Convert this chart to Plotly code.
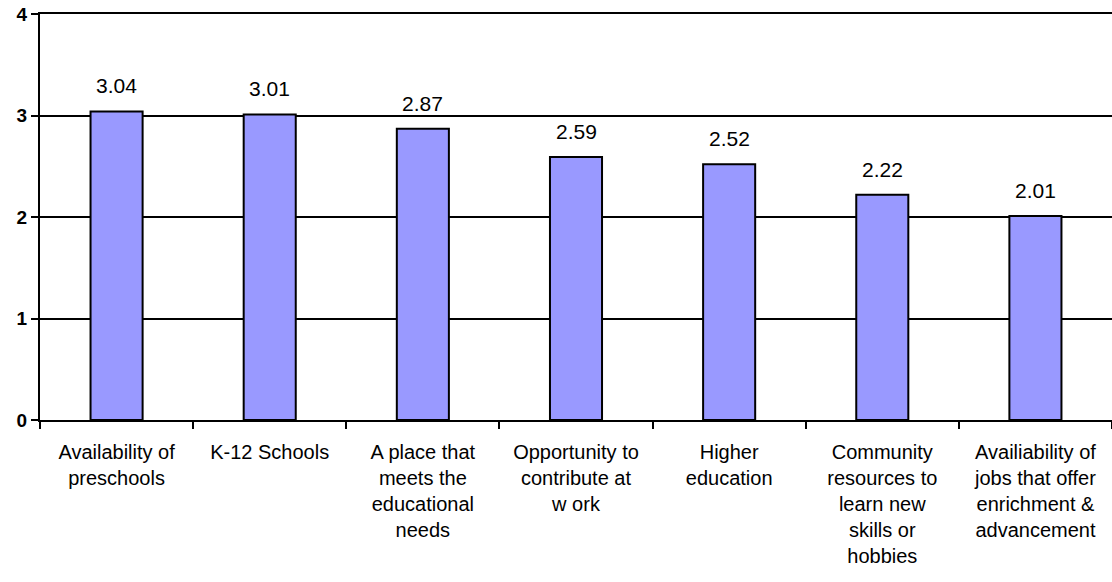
import plotly.graph_objects as go

categories = [
    "Availability of<br>preschools",
    "K-12 Schools",
    "A place that<br>meets the<br>educational<br>needs",
    "Opportunity to<br>contribute at<br>w ork",
    "Higher<br>education",
    "Community<br>resources to<br>learn new<br>skills or<br>hobbies",
    "Availiability of<br>jobs that offer<br>enrichment &<br>advancement",
]
values = [3.04, 3.01, 2.87, 2.59, 2.52, 2.22, 2.01]
labels = ["3.04", "3.01", "2.87", "2.59", "2.52", "2.22", "2.01"]
ytick_vals = [0, 1, 2, 3, 4]
ytick_text = ["<b>0</b>", "<b>1</b>", "<b>2</b>", "<b>3</b>", "<b>4</b>"]

FONT = "Liberation Sans, Arial"

fig = go.Figure()
fig.add_trace(go.Bar(
    x=categories,
    y=values,
    marker=dict(color="#9999FF", line=dict(color="black", width=2)),
    width=0.34,
))

for c, v, t in zip(categories, values, labels):
    fig.add_annotation(
        x=c, y=v, text=t, showarrow=False,
        yanchor="bottom", yshift=12,
        font=dict(family=FONT, size=21, color="black"),
    )

fig.update_layout(
    width=1112, height=582,
    margin=dict(l=40, r=0, t=14, b=162),
    plot_bgcolor="white",
    paper_bgcolor="white",
    showlegend=False,
    font=dict(family=FONT, color="black"),
)
fig.update_xaxes(
    automargin=False,
    showline=True, linecolor="black", linewidth=2, mirror=True,
    ticks="outside", tickson="boundaries", ticklen=7, tickwidth=2, tickcolor="black",
    tickfont=dict(family=FONT, size=20, color="black"),
    ticklabelstandoff=13,
    showgrid=False,
)
fig.update_yaxes(
    automargin=False,
    range=[0, 4], tickvals=ytick_vals, ticktext=ytick_text,
    showline=True, linecolor="black", linewidth=2,
    ticks="outside", ticklen=7, tickwidth=2, tickcolor="black",
    tickfont=dict(family=FONT, size=19, color="black"),
    ticklabeloverflow="allow",
    showgrid=True, gridcolor="black", gridwidth=2,
    zeroline=False,
)

fig.write_html(
    "out.html",
    config={"displayModeBar": False},
    post_script="document.body.style.margin='0';document.body.style.overflow='hidden';",
)
